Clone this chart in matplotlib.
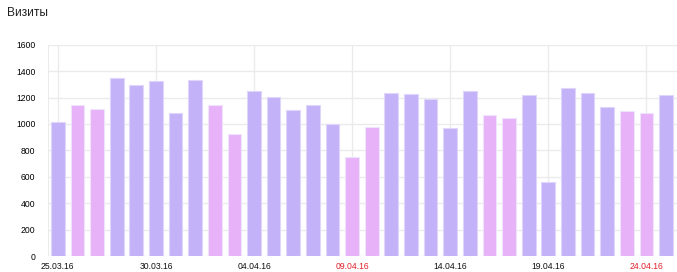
import matplotlib.pyplot as plt
import numpy as np
import pandas as pd

plt.rcParams['font.family'] = ['Liberation Sans', 'DejaVu Sans']

# daily visits, 25.03.16 - 25.04.16
days = pd.date_range('2016-03-25', '2016-04-25', freq='D')
visits = [1014, 1146, 1113, 1350, 1295, 1322, 1080, 1332, 1141, 926,
          1247, 1204, 1105, 1146, 1002, 750, 977, 1234, 1229, 1191,
          969, 1247, 1070, 1045, 1219, 558, 1274, 1237, 1128, 1095,
          1083, 1221]
yticks = [0, 200, 400, 600, 800, 1000, 1200, 1400, 1600]

weekday_col = '#c4b2f8'
weekend_col = '#e8b2f9'

weekend = [d.weekday() >= 5 for d in days]
colors = [weekend_col if w else weekday_col for w in weekend]
edges = ['#f0e4fd' if w else '#e0d6fc' for w in weekend]

fig = plt.figure(figsize=(6.77, 2.72), dpi=100)
ax = fig.add_axes([48 / 677, 16 / 272, 1 - 48 / 677, (256 - 44.7) / 272])

xs = np.arange(len(days))
ax.bar(xs, visits, width=0.7, color=colors, edgecolor=edges, linewidth=0.8, zorder=3)

ax.set_xlim(-0.5, 31.56)
ax.set_ylim(0, 1600)
ax.set_yticks(yticks)
ax.set_yticklabels([str(v) for v in yticks])

tick_pos = xs[::5]
ax.set_xticks(tick_pos)
ax.set_xticklabels([days[i].strftime('%d.%m.%y') for i in tick_pos])
for lbl, i in zip(ax.get_xticklabels(), tick_pos):
    lbl.set_color('#e0202a' if weekend[i] else '#111111')

ax.grid(True, color='#ebebeb', linewidth=1, zorder=0)
for s in ax.spines.values():
    s.set_visible(False)
ax.axvline(-0.5, color='#ebebeb', linewidth=1.5, zorder=1)
ax.tick_params(length=0, labelsize=6.2, pad=3)
ax.tick_params(axis='y', pad=9)
ax.tick_params(axis='x', pad=4)

fig.text(7 / 677, 1 - 13 / 272, 'Визиты', fontsize=8.6, color='#222222', va='center', ha='left')

fig.savefig('out.png', dpi=100)
